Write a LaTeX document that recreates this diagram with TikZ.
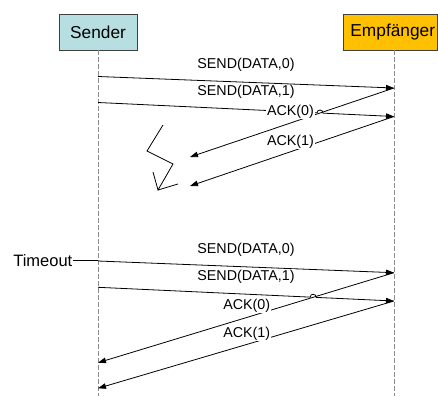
\documentclass[tikz,border=0pt]{standalone}
\usepackage{fontspec}
\setmainfont{Liberation Sans}
\usetikzlibrary{arrows.meta,calc,intersections}
\definecolor{senderfill}{RGB}{183,223,225}
\definecolor{recvfill}{RGB}{255,192,0}
\definecolor{lifegray}{RGB}{140,140,140}
\tikzset{
  actor/.style={draw=black!75, line width=0.9pt, minimum height=36pt, inner sep=0pt,
                font=\fontsize{17.3}{20}\selectfont},
  lifeline/.style={draw=lifegray, line width=0.8pt, dash pattern=on 4.5pt off 2.5pt},
  msg/.style={line width=0.8pt, -{Triangle[length=8pt,width=5.5pt]}},
  plain/.style={line width=0.8pt},
  lbl/.style={fill=white, inner sep=0.6pt, font=\fontsize{14.3}{16}\selectfont}
}
\begin{document}
\begin{tikzpicture}[x=1pt,y=-1pt]
\useasboundingbox (0,0) rectangle (438,396);

% actors
\node[actor, fill=senderfill, minimum width=78pt] (snd) at (98,32) {Sender};
\node[actor, fill=recvfill, minimum width=94.5pt] (rcv) at (390.25,32) {\hspace*{5pt}Empfänger};

% lifelines
\coordinate (sbot) at (98,396);
\coordinate (rbot) at (394,396);
\draw[lifeline] (snd.south) -- (sbot);
\draw[lifeline] (394,50) -- (rbot);

% --- first round ---
\coordinate (s1) at (98,76.5);   \coordinate (e1) at (394,88);
\coordinate (s2) at (98,102.5);  \coordinate (e2) at (394,116.5);
\coordinate (l1) at (190,157);   \coordinate (l2) at (190,186);

\path[name path=d2] (s2) -- (e2);
\path[name path=a1] (e1) -- (l1);
\path[name intersections={of=d2 and a1, by=x1}];
\coordinate (x1a) at ($(x1)!3pt!(s2)$);
\coordinate (x1b) at ($(x1)!3pt!(e2)$);

\draw[msg] (s1) -- (e1);
\draw[msg] (s2) -- (x1a) .. controls ($(x1a)+(0,-4)$) and ($(x1b)+(0,-4)$) .. (x1b) -- (e2);
\draw[msg] (e1) -- (l1);
\draw[msg] (e2) -- (l2);

% lost acknowledgements
\coordinate (z1) at (163,125);
\coordinate (z2) at (147,151);
\coordinate (z3) at (173,164);
\coordinate (z4) at (158,190);
\coordinate (z5) at (153,172);
\coordinate (z6) at (178,184);
\draw[plain] (z1) -- (z2) -- (z3) -- (z4) -- (z5);
\draw[plain] (z4) -- (z6);

\node[lbl] (t1) at (246,65) {SEND(DATA,0)};
\node[lbl] (t2) at (246,92) {SEND(DATA,1)};
\node[lbl] (t3) at (290.5,112) {ACK(0)};
\node[lbl] (t4) at (290.5,141.5) {ACK(1)};

% --- second round after timeout ---
\coordinate (s3) at (98,261);    \coordinate (e3) at (394,272.7);
\coordinate (s4) at (98,287.3);  \coordinate (e4) at (394,301);
\coordinate (l3) at (98,362.7);  \coordinate (l4) at (98,388.3);

\node[anchor=east, inner sep=0pt, font=\fontsize{16.5}{19}\selectfont] (tmo) at (72.5,260.5) {Timeout};
\draw[plain] (tmo.east) -- (tmo.east -| s3);

\path[name path=d4] (s4) -- (e4);
\path[name path=a3] (e3) -- (l3);
\path[name intersections={of=d4 and a3, by=x2}];
\coordinate (x2a) at ($(x2)!3pt!(s4)$);
\coordinate (x2b) at ($(x2)!3pt!(e4)$);

\draw[msg] (s3) -- (e3);
\draw[msg] (s4) -- (x2a) .. controls ($(x2a)+(0,-4)$) and ($(x2b)+(0,-4)$) .. (x2b) -- (e4);
\draw[msg] (e3) -- (l3);
\draw[msg] (e4) -- (l4);

\node[lbl] (t5) at (246,250) {SEND(DATA,0)};
\node[lbl] (t6) at (246,276.7) {SEND(DATA,1)};
\node[lbl] (t7) at (246.7,306) {ACK(0)};
\node[lbl] (t8) at (246.7,334) {ACK(1)};
\end{tikzpicture}
\end{document}
